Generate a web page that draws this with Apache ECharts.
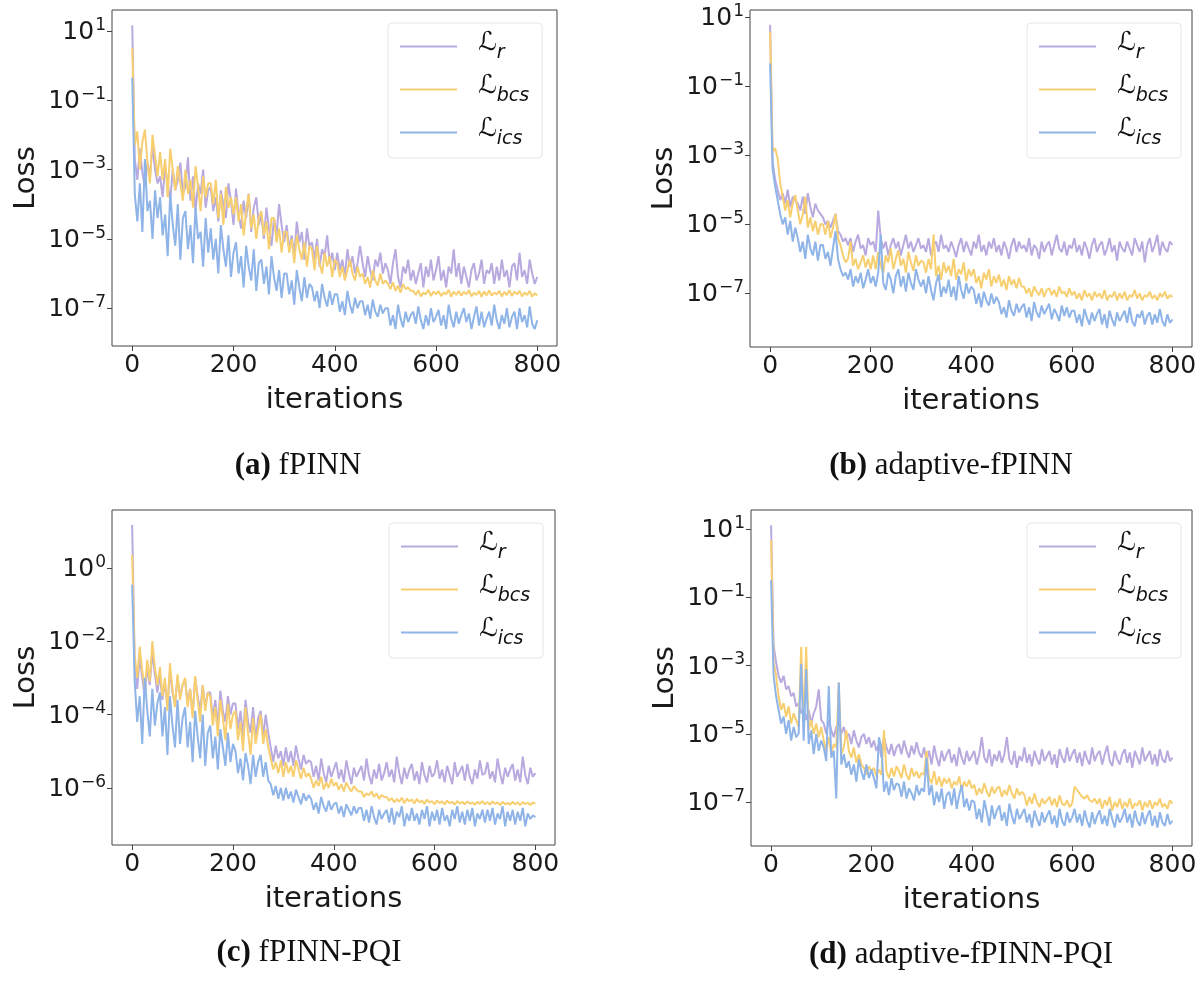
<!DOCTYPE html>
<html>
<head>
<meta charset="utf-8">
<title>Loss curves</title>
<script src="https://cdn.jsdelivr.net/npm/echarts@6/dist/echarts.min.js"></script>
<style>
  html, body { margin: 0; padding: 0; background: #fff; }
  #chart { width: 1203px; height: 983px; }
</style>
</head>
<body>
<div id="chart"></div>
<script>
// all loss values are log10(loss), one sample every 5 iterations (0..800)
const iterStep = 5;
const seriesNames = ['r', 'bcs', 'ics'];
const xTicks = [0, 200, 400, 600, 800];
const oddExpTicks = [1, -1, -3, -5, -7];
const evenExpTicks = [0, -2, -4, -6];
const captionTags = ['(a)', '(b)', '(c)', '(d)'];
const captionTitles = ['fPINN', 'adaptive-fPINN', 'fPINN-PQI', 'adaptive-fPINN-PQI'];

// (a) fPINN
const aLr = [1.16,
  -2.7, -3.3, -2.4, -3.1, -3.5, -2.8, -3.2, -2.3, -3.0, -3.4,
  -3.2, -3.8, -2.9, -3.4, -3.9, -3.0, -3.6, -3.3, -2.8, -3.7,
  -3.5, -2.65, -3.9, -3.2, -4.2, -3.4, -3.7, -3.0, -4.1, -3.6,
  -3.5, -4.2, -3.8, -4.5, -3.6, -4.0, -4.4, -3.4, -3.9, -4.6,
  -3.55, -4.3, -4.7, -3.9, -4.4, -3.7, -4.8, -4.1, -3.8, -4.6,
  -4.3, -5.0, -4.1, -4.7, -5.2, -4.4, -4.9, -4.0, -4.6, -5.1,
  -4.6, -5.3, -4.9, -5.5, -4.5, -5.1, -4.8, -5.6, -4.7, -5.2,
  -5.1, -5.6, -5.0, -5.8, -5.3, -5.5, -4.9, -5.7, -5.4, -5.9,
  -5.4, -5.9, -5.6, -6.1, -5.3, -5.8, -5.5, -6.0, -5.7, -5.2,
  -5.7, -6.1, -5.5, -5.9, -6.2, -5.6, -5.8, -5.4, -6.0, -5.7,
  -5.9, -6.3, -5.7, -5.3, -6.1, -6.4, -5.8, -6.0, -5.6, -6.2,
  -5.9, -6.3, -6.0, -5.7, -6.4, -5.8, -6.1, -5.6, -6.2, -5.9,
  -5.5, -6.2, -5.9, -6.4, -5.8, -6.0, -5.3, -6.1, -5.7, -6.3,
  -5.8, -6.1, -6.4, -5.9, -5.7, -6.2, -6.0, -5.6, -6.3, -5.9,
  -6.0, -5.7, -6.3, -5.8, -6.2, -5.6, -6.1, -5.9, -6.4, -5.8,
  -5.7, -6.2, -5.4, -6.1, -5.9, -6.3, -5.6, -6.0, -6.3, -6.1];
const aLbcs = [0.5,
  -2.3, -1.9, -3.0, -2.2, -1.85, -2.8, -3.4, -2.0, -2.6, -3.2,
  -2.5, -3.3, -2.7, -3.8, -2.4, -3.0, -3.6, -2.9, -3.4, -3.9,
  -3.0, -3.7, -3.3, -4.1, -2.9, -3.5, -4.2, -3.2, -3.8, -3.4,
  -3.4, -4.0, -3.3, -4.4, -3.7, -4.6, -3.5, -4.1, -3.8, -4.3,
  -3.8, -4.5, -4.0, -4.9, -4.2, -3.7, -4.7, -4.3, -5.0, -4.4,
  -4.2, -4.9, -4.5, -5.3, -4.4, -4.4, -5.1, -4.7, -5.4, -4.8,
  -4.8, -5.4, -5.0, -5.7, -4.9, -5.3, -5.6, -5.1, -5.8, -5.2,
  -5.3, -5.9, -5.2, -5.7, -6.0, -5.4, -5.8, -5.5, -6.1, -5.6,
  -5.7, -6.1, -5.8, -6.2, -5.9, -5.6, -6.0, -6.2, -5.8, -6.1,
  -6.0, -6.3, -6.1, -6.4, -5.9, -6.2, -6.35, -6.0, -6.3, -6.2,
  -6.3, -6.45, -6.25, -6.5, -6.35, -6.55, -6.3, -6.45, -6.4, -6.5,
  -6.5, -6.62, -6.48, -6.66, -6.55, -6.6, -6.47, -6.65, -6.52, -6.6,
  -6.5, -6.65, -6.55, -6.6, -6.47, -6.67, -6.52, -6.62, -6.5, -6.64,
  -6.53, -6.6, -6.48, -6.66, -6.55, -6.62, -6.5, -6.67, -6.52, -6.63,
  -6.49, -6.64, -6.55, -6.6, -6.5, -6.66, -6.53, -6.62, -6.48, -6.65,
  -6.52, -6.6, -6.5, -6.66, -6.55, -6.62, -6.5, -6.67, -6.57, -6.63];
const aLics = [-0.35,
  -3.7, -4.5, -3.4, -4.8, -2.7, -4.2, -3.9, -5.0, -3.6, -4.4,
  -3.8, -4.9, -4.3, -5.5, -3.7, -4.6, -5.2, -4.0, -5.6, -4.4,
  -4.2, -5.3, -4.6, -5.7, -4.1, -5.0, -4.8, -5.8, -4.4, -5.4,
  -4.7, -5.6, -5.0, -6.0, -4.6, -5.3, -5.8, -4.9, -6.1, -5.4,
  -5.1, -6.0, -5.5, -6.4, -5.2, -5.8, -6.2, -5.3, -6.5, -5.7,
  -5.6, -6.3, -5.8, -6.6, -5.5, -6.1, -6.5, -5.9, -6.7, -6.0,
  -6.0, -6.6, -6.2, -6.9, -5.9, -6.4, -6.8, -6.1, -6.7, -6.3,
  -6.4, -6.8, -6.5, -7.0, -6.3, -6.7, -6.95, -6.5, -6.9, -6.6,
  -6.6, -7.1, -6.8, -7.2, -6.5, -6.9, -7.15, -6.7, -7.0, -6.8,
  -6.8, -7.2, -6.9, -7.3, -6.75, -7.1, -7.25, -6.9, -7.15, -7.0,
  -7.0, -7.5, -7.2, -7.6, -6.9, -7.3, -7.55, -7.1, -7.4, -7.2,
  -7.1, -7.45, -6.95, -7.35, -7.6, -7.2, -7.5, -7.0, -7.4, -7.25,
  -7.05, -7.5, -7.2, -7.6, -6.9, -7.3, -7.55, -7.1, -7.45, -7.2,
  -7.0, -7.4, -7.15, -7.6, -7.25, -6.95, -7.5, -7.1, -7.55, -7.3,
  -7.1, -7.5, -6.9, -7.35, -7.6, -7.2, -7.45, -7.0, -7.55, -7.25,
  -7.1, -7.6, -7.0, -7.4, -7.2, -7.55, -6.95, -7.45, -7.6, -7.35];

// (b) adaptive-fPINN
const bLr = [0.77,
  -3.2, -3.7, -4.0, -4.3, -4.1, -4.4, -4.0, -4.5, -4.2, -4.3,
  -4.4, -4.6, -4.2, -4.7, -4.1, -4.5, -4.8, -4.4, -4.6, -4.7,
  -4.8, -5.0, -4.9, -5.1, -4.9, -4.7, -5.2, -5.3, -5.5, -5.4,
  -5.6, -5.4, -5.8, -5.5, -5.3, -5.7, -5.6, -5.9, -5.4, -5.6,
  -5.5, -5.8, -4.6, -5.4, -5.7, -5.5, -5.9, -5.6, -5.4, -5.7,
  -5.5, -5.9, -5.6, -5.3, -5.7, -5.5, -5.8, -5.6, -5.4, -5.7,
  -5.6, -5.8, -5.4, -5.9, -5.6, -5.5, -5.8, -5.3, -5.7, -5.6,
  -5.8, -5.5, -5.7, -5.95, -5.6, -5.4, -5.8, -5.5, -5.7, -5.9,
  -5.5, -5.7, -5.3, -5.8, -5.6, -5.9, -5.5, -5.7, -5.4, -5.8,
  -5.6, -5.9, -5.5, -5.7, -6.0, -5.6, -5.4, -5.8, -5.5, -5.7,
  -5.6, -5.8, -5.4, -5.9, -5.6, -5.7, -6.0, -5.5, -5.8, -5.6,
  -5.5, -5.9, -5.6, -5.3, -5.7, -5.8, -5.5, -5.9, -5.6, -5.7,
  -5.4, -5.8, -5.6, -5.9, -5.5, -5.7, -6.0, -5.6, -5.4, -5.8,
  -5.6, -5.5, -5.9, -5.7, -5.4, -5.8, -5.6, -6.05, -5.5, -5.7,
  -5.8, -5.5, -5.7, -5.9, -5.4, -5.6, -5.8, -5.5, -6.1, -5.6,
  -5.4, -5.8, -5.6, -5.3, -5.9, -5.5, -5.7, -5.8, -5.5, -5.6];
const bLbcs = [0.57,
  -2.9, -2.8, -3.1, -3.8, -4.2, -4.6, -4.3, -4.8, -4.4, -4.15,
  -4.6, -5.0, -4.7, -4.2, -5.1, -4.8, -5.2, -4.9, -5.3, -5.0,
  -5.0, -5.3, -4.9, -5.4, -5.1, -4.7, -5.4, -5.6, -5.9, -6.1,
  -6.0, -5.5, -6.2, -6.0, -6.3, -6.1, -5.9, -6.25, -6.0, -6.3,
  -5.9, -6.3, -5.8, -6.2, -6.4, -5.9, -6.1, -5.7, -6.3, -6.0,
  -5.75, -6.2, -6.0, -6.4, -5.8, -6.1, -6.35, -5.9, -6.2, -6.05,
  -6.1, -6.4, -6.0, -6.3, -5.3, -6.5, -6.2, -6.6, -6.1, -6.4,
  -6.2, -6.5, -6.0, -6.6, -6.3, -6.45, -6.1, -6.65, -6.3, -6.5,
  -6.3, -6.7, -6.5, -6.85, -6.4, -6.6, -6.3, -6.8, -6.5, -6.7,
  -6.45, -6.8, -6.6, -6.9, -6.5, -6.75, -6.6, -6.85, -6.55, -6.8,
  -6.8, -7.0, -6.85, -7.1, -6.8, -6.95, -7.05, -6.85, -7.1, -6.9,
  -6.85, -7.05, -6.9, -7.1, -6.8, -7.0, -6.95, -7.1, -6.85, -7.05,
  -6.95, -7.15, -7.0, -7.2, -6.9, -7.1, -7.0, -7.2, -6.95, -7.1,
  -7.0, -7.15, -6.9, -7.2, -7.05, -7.1, -6.95, -7.2, -7.0, -7.15,
  -6.95, -7.2, -7.05, -7.1, -6.9, -7.15, -7.0, -7.2, -7.05, -7.1,
  -6.95, -7.15, -7.05, -7.2, -7.0, -7.1, -6.95, -7.15, -7.05, -7.1];
const bLics = [-0.35,
  -3.4, -3.9, -4.3, -4.7, -5.0, -4.8, -5.3, -4.9, -5.5, -5.1,
  -5.4, -5.8, -5.5, -6.0, -5.3, -5.7, -5.9, -5.5, -6.05, -5.6,
  -5.6, -6.0, -5.8, -6.2, -5.7, -5.2, -6.0, -6.3, -6.5, -6.4,
  -6.6, -6.3, -6.8, -6.5, -6.7, -6.4, -6.85, -6.6, -6.3, -6.7,
  -6.5, -6.8, -6.4, -5.3, -6.7, -6.9, -6.4, -6.6, -7.0, -6.5,
  -6.3, -6.8, -6.5, -6.95, -6.4, -6.7, -6.9, -6.3, -6.6, -6.8,
  -6.6, -7.0, -6.5, -6.9, -7.2, -6.7, -6.45, -7.1, -6.8, -7.0,
  -6.6, -7.1, -6.8, -7.2, -6.5, -6.9, -7.15, -6.7, -7.0, -6.8,
  -6.9, -7.3, -7.0, -7.4, -6.95, -7.2, -7.35, -7.0, -7.3, -7.1,
  -7.25, -7.6, -7.4, -7.7, -7.2, -7.5, -7.65, -7.3, -7.55, -7.4,
  -7.3, -7.7, -7.4, -7.8, -7.25, -7.55, -7.7, -7.35, -7.6, -7.45,
  -7.3, -7.75, -7.45, -7.6, -7.8, -7.35, -7.65, -7.4, -7.7, -7.5,
  -7.5, -7.85, -7.6, -7.95, -7.45, -7.7, -7.9, -7.55, -7.8, -7.6,
  -7.45, -7.9, -7.6, -8.0, -7.5, -7.75, -7.95, -7.55, -7.8, -7.65,
  -7.5, -7.85, -7.4, -7.8, -7.95, -7.6, -7.7, -7.5, -7.9, -7.65,
  -7.55, -7.9, -7.6, -7.85, -7.45, -7.8, -7.95, -7.6, -7.85, -7.75];

// (c) fPINN-PQI
const cLr = [1.17,
  -2.6, -3.3, -2.4, -3.0, -3.5, -2.7, -3.2, -2.3, -2.9, -3.4,
  -2.9, -3.6, -3.1, -3.8, -2.8, -3.4, -3.7, -3.0, -3.5, -3.2,
  -3.05, -3.7, -3.3, -4.0, -3.0, -3.5, -3.9, -3.2, -3.8, -3.4,
  -3.4, -4.1, -3.6, -4.3, -3.35, -3.9, -4.2, -3.5, -4.0, -3.7,
  -3.7, -4.4, -3.9, -4.6, -3.6, -4.2, -4.5, -3.8, -4.7, -4.1,
  -3.9, -4.6, -4.0, -4.5, -4.9, -5.3, -4.85, -5.2, -5.0, -5.4,
  -4.9, -5.3, -5.0, -5.4, -4.85, -5.2, -5.5, -5.1, -5.35, -5.25,
  -5.3, -5.7, -5.4, -5.8, -5.2, -5.6, -5.85, -5.4, -5.7, -5.5,
  -5.3, -5.75, -5.5, -5.85, -5.25, -5.6, -5.9, -5.45, -5.7, -5.55,
  -5.4, -5.8, -5.2, -5.65, -5.9, -5.5, -5.75, -5.35, -5.8, -5.6,
  -5.3, -5.7, -5.5, -5.85, -5.15, -5.6, -5.9, -5.45, -5.75, -5.5,
  -5.35, -5.8, -5.55, -5.9, -5.3, -5.65, -5.85, -5.4, -5.7, -5.6,
  -5.25, -5.75, -5.5, -5.85, -5.4, -5.65, -5.9, -5.3, -5.7, -5.55,
  -5.4, -5.8, -5.35, -5.7, -5.9, -5.5, -5.75, -5.25, -5.65, -5.6,
  -5.3, -5.75, -5.55, -5.85, -5.2, -5.6, -5.9, -5.45, -5.7, -5.5,
  -5.35, -5.8, -5.5, -5.85, -5.15, -5.65, -5.9, -5.45, -5.7, -5.6];
const cLbcs = [0.35,
  -2.4, -3.0, -2.15, -2.8, -3.3, -2.5, -3.1, -2.0, -2.7, -3.2,
  -2.7, -3.5, -3.0, -3.9, -2.6, -3.3, -3.8, -2.9, -3.6, -3.2,
  -3.0, -3.8, -3.3, -4.1, -2.95, -3.6, -4.2, -3.2, -3.9, -3.4,
  -3.5, -4.3, -3.8, -4.6, -3.6, -4.1, -4.7, -3.7, -4.4, -4.0,
  -3.9, -4.7, -4.2, -5.0, -3.8, -4.5, -5.1, -4.1, -4.8, -4.4,
  -4.0, -4.8, -4.4, -4.9, -5.2, -5.5, -5.3, -5.6, -5.25, -5.7,
  -5.3, -5.6, -5.4, -5.7, -5.25, -5.5, -5.75, -5.45, -5.7, -5.6,
  -5.75, -6.0, -5.8, -5.95, -5.7, -6.05, -5.85, -6.0, -5.75, -5.95,
  -5.85, -6.05, -5.9, -6.1, -5.85, -6.0, -6.1, -5.95, -6.05, -6.1,
  -6.1, -6.25, -6.15, -6.2, -6.1, -6.25, -6.15, -6.3, -6.2, -6.25,
  -6.25, -6.35, -6.28, -6.4, -6.3, -6.38, -6.27, -6.42, -6.3, -6.37,
  -6.32, -6.43, -6.3, -6.4, -6.35, -6.44, -6.32, -6.4, -6.36, -6.45,
  -6.34, -6.42, -6.37, -6.45, -6.35, -6.42, -6.38, -6.46, -6.36, -6.43,
  -6.38, -6.45, -6.37, -6.43, -6.4, -6.46, -6.38, -6.44, -6.36, -6.45,
  -6.39, -6.46, -6.37, -6.44, -6.4, -6.47, -6.38, -6.45, -6.41, -6.46,
  -6.38, -6.45, -6.4, -6.47, -6.39, -6.44, -6.41, -6.47, -6.4, -6.44];
const cLics = [-0.46,
  -3.1, -4.2, -3.5, -4.8, -3.0, -3.9, -4.6, -3.3, -4.3, -3.7,
  -3.4, -4.6, -3.8, -5.1, -3.5, -4.3, -4.9, -3.6, -4.8, -4.1,
  -3.8, -4.9, -4.2, -5.3, -3.9, -4.6, -5.2, -4.0, -5.4, -4.5,
  -4.3, -5.2, -4.6, -5.5, -4.4, -4.9, -5.4, -4.5, -5.3, -4.8,
  -5.0, -5.6, -5.2, -5.8, -5.05, -5.4, -5.9, -5.1, -5.7, -5.3,
  -5.1, -5.7, -5.3, -5.8, -5.9, -6.2, -5.95, -6.3, -6.0, -6.35,
  -6.0, -6.3, -6.1, -6.4, -6.05, -6.25, -6.45, -6.15, -6.35, -6.2,
  -6.3, -6.6, -6.4, -6.7, -6.25, -6.5, -6.65, -6.35, -6.6, -6.45,
  -6.4, -6.7, -6.5, -6.8, -6.45, -6.6, -6.75, -6.5, -6.7, -6.55,
  -6.55, -6.9, -6.6, -6.95, -6.5, -6.8, -7.0, -6.6, -6.85, -6.7,
  -6.6, -6.95, -6.55, -7.0, -6.65, -6.8, -6.5, -7.05, -6.7, -6.9,
  -6.55, -6.9, -6.7, -7.0, -6.6, -6.85, -6.5, -7.05, -6.65, -6.9,
  -6.6, -7.0, -6.55, -6.9, -6.75, -7.05, -6.6, -6.85, -6.5, -6.95,
  -6.65, -7.0, -6.6, -6.9, -6.55, -7.05, -6.7, -6.85, -6.6, -6.95,
  -6.6, -6.9, -6.55, -7.0, -6.7, -6.85, -6.5, -7.05, -6.65, -6.9,
  -6.6, -7.0, -6.65, -6.9, -6.55, -7.05, -6.7, -6.85, -6.75, -6.8];

// (d) adaptive-fPINN-PQI
const dLr = [1.11,
  -2.4, -2.9, -3.3, -3.5, -3.3, -3.7, -3.6, -3.9, -3.8, -4.2,
  -4.1, -4.4, -4.2, -4.6, -4.3, -4.7, -4.4, -4.2, -3.7, -4.6,
  -4.7, -5.0, -4.6, -4.9, -5.1, -4.8, -4.7, -5.0, -4.8, -5.1,
  -5.0, -5.3, -4.9, -5.2, -5.4, -5.1, -5.0, -5.3, -5.1, -5.4,
  -5.2, -5.5, -5.3, -5.7, -5.1, -5.4, -5.6, -5.3, -5.65, -5.4,
  -5.3, -5.6, -5.2, -5.5, -5.7, -5.35, -5.6, -5.25, -5.55, -5.7,
  -5.4, -5.8, -5.5, -5.9, -5.35, -5.7, -5.95, -5.5, -5.8, -5.6,
  -5.45, -5.85, -5.6, -5.95, -5.4, -5.7, -5.9, -5.5, -5.8, -5.65,
  -5.5, -5.9, -5.6, -5.1, -5.7, -5.85, -5.45, -5.95, -5.6, -5.8,
  -5.5, -5.85, -5.6, -5.1, -5.75, -5.9, -5.5, -6.0, -5.65, -5.8,
  -5.4, -5.85, -5.6, -5.95, -5.5, -5.75, -5.9, -5.45, -5.8, -5.65,
  -5.5, -5.9, -5.6, -6.0, -5.45, -5.7, -5.85, -5.4, -5.8, -5.6,
  -5.45, -5.85, -5.55, -5.95, -5.5, -5.75, -5.9, -5.4, -5.8, -5.6,
  -5.5, -5.9, -5.6, -5.35, -5.8, -5.95, -5.5, -5.75, -5.9, -5.6,
  -5.45, -5.85, -5.55, -6.0, -5.5, -5.7, -5.9, -5.4, -5.8, -5.65,
  -5.5, -5.9, -5.6, -5.95, -5.45, -5.75, -5.85, -5.5, -5.8, -5.7];
const dLbcs = [0.68,
  -2.9, -3.3, -3.9, -4.3, -4.1, -4.5, -4.2, -4.7, -4.4, -4.6,
  -4.8, -2.45, -4.7, -2.45, -4.9, -4.6, -5.0, -4.7, -5.1, -4.8,
  -5.2, -5.5, -5.1, -5.6, -5.3, -5.4, -3.5, -5.6, -5.4, -4.9,
  -5.5, -5.7, -5.4, -5.85, -5.6, -5.9, -6.0, -6.2, -5.95, -6.1,
  -6.0, -6.25, -6.05, -6.2, -4.9, -6.1, -6.3, -6.0, -6.25, -5.95,
  -6.1, -6.3, -5.9, -6.2, -6.35, -6.0, -6.25, -6.1, -6.3, -6.15,
  -6.2, -5.5, -6.3, -6.45, -6.1, -6.5, -6.25, -6.55, -6.3, -6.45,
  -6.3, -6.6, -6.4, -6.5, -6.25, -6.65, -6.4, -6.55, -6.35, -6.6,
  -6.5, -6.8, -6.6, -6.75, -6.45, -6.7, -6.85, -6.55, -6.75, -6.6,
  -6.55, -6.85, -6.65, -6.8, -6.5, -6.75, -6.9, -6.6, -6.8, -6.7,
  -6.8, -7.1, -6.85, -7.05, -6.75, -7.0, -7.15, -6.9, -7.05, -6.95,
  -6.85, -7.1, -6.9, -7.15, -6.8, -7.05, -7.1, -6.95, -7.15, -7.05,
  -6.55, -6.65, -6.75, -6.85, -6.9, -6.8, -6.95, -7.0, -6.9, -7.05,
  -6.9, -7.2, -6.95, -7.1, -6.85, -7.25, -7.0, -7.15, -6.9, -7.2,
  -7.0, -7.15, -6.9, -7.2, -7.05, -7.1, -6.95, -7.25, -7.0, -7.15,
  -6.95, -7.2, -7.0, -7.1, -6.9, -7.15, -7.05, -7.2, -6.95, -7.05];
const dLics = [-0.5,
  -3.3, -3.9, -4.3, -4.7, -4.5, -5.0, -4.6, -5.2, -4.8, -5.1,
  -5.0, -2.95, -5.2, -3.1, -5.3, -4.9, -5.6, -5.0, -5.5, -5.2,
  -5.4, -5.8, -3.6, -5.7, -5.5, -6.9, -3.5, -5.9, -5.6, -6.0,
  -5.8, -6.2, -5.9, -6.4, -5.75, -6.1, -6.35, -5.9, -6.3, -6.05,
  -6.3, -6.6, -5.1, -5.4, -6.7, -6.4, -6.8, -6.3, -6.65, -6.45,
  -6.5, -6.85, -6.4, -6.9, -6.6, -6.75, -6.95, -6.5, -6.8, -6.6,
  -6.7, -5.7, -6.8, -6.5, -7.1, -6.7, -7.0, -6.6, -7.2, -6.8,
  -6.7, -7.1, -6.6, -7.2, -6.8, -6.5, -7.15, -6.9, -7.25, -6.95,
  -7.0, -7.5, -7.2, -7.6, -6.95, -7.3, -7.7, -7.1, -7.5, -7.25,
  -7.1, -7.55, -7.3, -7.7, -7.05, -7.4, -7.65, -7.2, -7.5, -7.35,
  -7.2, -7.6, -7.35, -7.75, -7.25, -7.5, -7.7, -7.3, -7.6, -7.4,
  -7.25, -7.65, -7.4, -7.75, -7.2, -7.55, -7.7, -7.3, -7.6, -7.45,
  -7.2, -7.6, -7.35, -7.7, -7.25, -7.55, -7.75, -7.3, -7.65, -7.4,
  -7.25, -7.65, -7.4, -7.7, -7.2, -7.5, -7.75, -7.35, -7.6, -7.45,
  -7.2, -7.6, -7.35, -7.75, -7.25, -7.55, -7.7, -7.3, -7.65, -7.4,
  -7.25, -7.7, -7.4, -7.75, -7.3, -7.6, -7.7, -7.35, -7.65, -7.55];

const lineColors = ['#b8aadf', '#f8cf70', '#8fb4e8'];
const axisColor = '#444';
const tickFont = 'DejaVu Sans';

// layout of the four panels
const panels = [
  { grid: { left: 112, top: 10, width: 445, height: 336 }, yRange: [-8.09, 1.6], yTicks: oddExpTicks,
    legendPos: { left: 388, top: 23 }, caption: { x: 298, y: 466 }, values: [aLr, aLbcs, aLics] },
  { grid: { left: 750, top: 10, width: 442, height: 337 }, yRange: [-8.55, 1.2], yTicks: oddExpTicks,
    legendPos: { left: 1027, top: 23 }, caption: { x: 951, y: 466 }, values: [bLr, bLbcs, bLics] },
  { grid: { left: 112, top: 510, width: 443, height: 335 }, yRange: [-7.56, 1.58], yTicks: evenExpTicks,
    legendPos: { left: 389, top: 523 }, caption: { x: 309, y: 953 }, values: [cLr, cLbcs, cLics] },
  { grid: { left: 751, top: 510, width: 441, height: 336 }, yRange: [-8.29, 1.56], yTicks: oddExpTicks,
    legendPos: { left: 1027, top: 523 }, caption: { x: 961, y: 955 }, values: [dLr, dLbcs, dLics] },
];

const toPoints = (vals) => vals.map((v, i) => [i * iterStep, v]);

const powLabel = (v) => '{b|10}{s|' + String(v).replace('-', '\u2212') + '}';

const chart = echarts.init(document.getElementById('chart'), null, { renderer: 'canvas' });

const option = {
  animation: false,
  backgroundColor: '#fff',
  grid: panels.map((p) => ({
    ...p.grid,
    show: true,
    borderColor: axisColor,
    borderWidth: 1,
    backgroundColor: 'transparent',
  })),
  xAxis: panels.map((p, i) => ({
    type: 'value',
    gridIndex: i,
    min: -40,
    max: 839,
    axisLine: { show: false, onZero: false },
    splitLine: { show: false },
    axisTick: { show: true, length: 5, customValues: xTicks, lineStyle: { color: axisColor } },
    axisLabel: {
      customValues: xTicks, fontSize: 25, color: '#1a1a1a', fontFamily: tickFont, margin: 7,
    },
    name: 'iterations',
    nameLocation: 'middle',
    nameGap: 40,
    nameTextStyle: { fontSize: 29, color: '#1a1a1a', fontFamily: tickFont },
  })),
  yAxis: panels.map((p, i) => ({
    type: 'value',
    gridIndex: i,
    min: p.yRange[0],
    max: p.yRange[1],
    axisLine: { show: false, onZero: false },
    splitLine: { show: false },
    axisTick: { show: true, length: 5, customValues: p.yTicks, lineStyle: { color: axisColor } },
    axisLabel: {
      customValues: p.yTicks,
      margin: 6,
      formatter: powLabel,
      rich: {
        b: { fontSize: 25, color: '#1a1a1a', fontFamily: tickFont, verticalAlign: 'bottom' },
        s: { fontSize: 17, color: '#1a1a1a', fontFamily: tickFont, verticalAlign: 'bottom', padding: [0, 0, 11, 1] },
      },
    },
    name: 'Loss',
    nameLocation: 'middle',
    nameRotate: 90,
    nameGap: 71,
    nameTextStyle: { fontSize: 29, color: '#1a1a1a', fontFamily: tickFont },
  })),
  legend: panels.map((p) => ({
    ...p.legendPos,
    orient: 'vertical',
    icon: 'rect',
    itemWidth: 57,
    itemHeight: 2,
    itemGap: 10,
    padding: [7, 13, 9, 12],
    borderColor: '#e6e6e6',
    borderWidth: 1,
    borderRadius: 4,
    backgroundColor: '#fff',
    selectedMode: false,
    data: seriesNames,
    formatter: (n) => '{L|\u2112}{sub|' + n + '}',
    textStyle: {
      rich: {
        L: { fontSize: 26, color: '#111', fontFamily: tickFont, verticalAlign: 'bottom', padding: [0, 0, 7, 16] },
        sub: { fontSize: 19, color: '#111', fontFamily: tickFont, fontStyle: 'italic', verticalAlign: 'bottom' },
      },
    },
  })),
  series: panels.flatMap((p, i) => p.values.map((vals, k) => ({
    name: seriesNames[k],
    type: 'line',
    xAxisIndex: i,
    yAxisIndex: i,
    showSymbol: false,
    symbol: 'none',
    silent: true,
    color: lineColors[k],
    lineStyle: { width: 2, color: lineColors[k] },
    data: toPoints(vals),
  }))),
  graphic: panels.map((p, i) => ({
    type: 'text',
    x: p.caption.x,
    y: p.caption.y,
    style: {
      text: '{b|' + captionTags[i] + '} {n|' + captionTitles[i] + '}',
      align: 'center',
      verticalAlign: 'middle',
      rich: {
        b: { fontSize: 31, fontWeight: 'bold', fontFamily: 'Liberation Serif', fill: '#111' },
        n: { fontSize: 31, fontFamily: 'Liberation Serif', fill: '#111' },
      },
      fontSize: 31,
      fontFamily: 'Liberation Serif',
      fill: '#111',
    },
  })),
};

chart.setOption(option);
</script>
</body>
</html>
